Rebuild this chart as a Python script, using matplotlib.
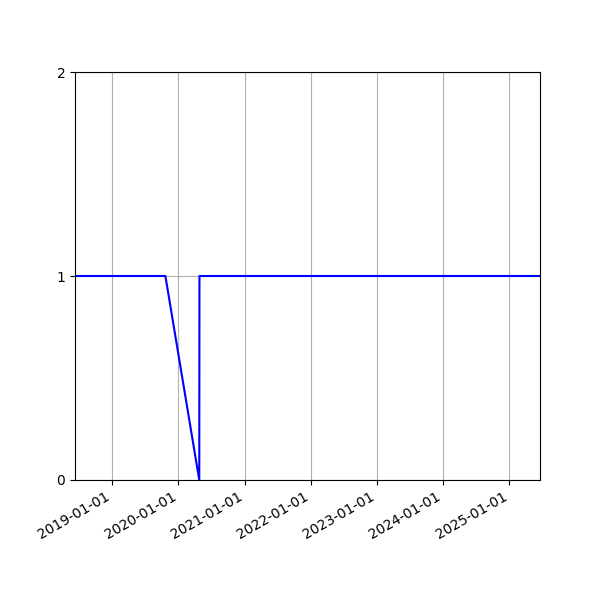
import matplotlib
matplotlib.use("Agg")
import matplotlib.pyplot as plt
import matplotlib.dates as mdates
import pandas as pd

dates = ["2018-06-09", "2019-10-21", "2020-04-25", "2020-04-26", "2025-06-19"]
values = [1, 1, 0, 1, 1]
yticks = [0, 1, 2]

x = pd.to_datetime(dates)
fig, ax = plt.subplots(figsize=(6, 6), dpi=100)
ax.plot(x, values, color="blue")
ax.set_xlim(x[0], x[-1])
ax.set_ylim(0, 2)
ax.set_yticks(yticks)
ax.xaxis.set_major_locator(mdates.YearLocator())
ax.xaxis.set_major_formatter(mdates.DateFormatter("%Y-%m-%d"))
ax.grid(True)
fig.autofmt_xdate()
fig.savefig("out.png")
